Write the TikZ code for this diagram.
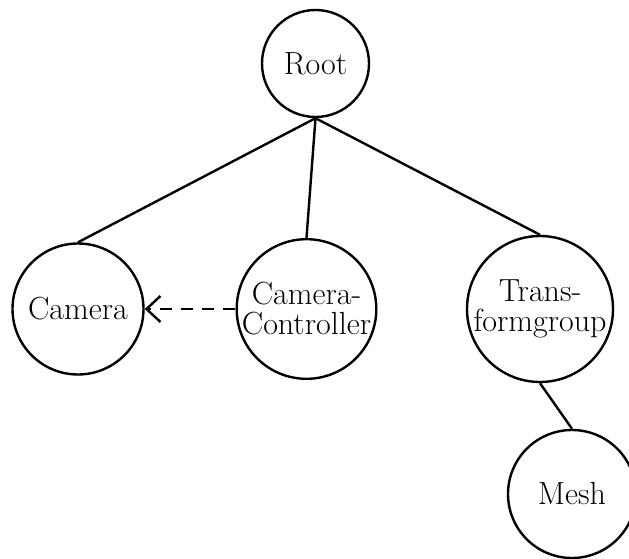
\documentclass[tikz,border=0pt]{standalone}
\usepackage{tikz}
\usetikzlibrary{arrows.meta}

\tikzset{
  knoten/.style={draw, circle, inner sep=0pt, align=center, line width=2.4pt,
    font=\fontsize{32}{30}\selectfont},
  kante/.style={line width=2.4pt},
  bezug/.style={line width=2.4pt, dash pattern=on 12pt off 9pt,
    -{Straight Barb[length=14pt, width=26pt, line width=2.4pt]}}
}

\begin{document}
\begin{tikzpicture}[x=1pt, y=1pt]
\useasboundingbox (0,0) rectangle (629,558);

% Wurzel
\node[knoten, minimum size=107pt] (root) at (315.5,494.5) {Root};

% Zweite Ebene
\node[knoten, minimum size=131pt] (camera) at (78,249) {Camera};
\node[knoten, minimum size=134pt] (ctrl) at (306.5,249) {Camera-\\Controller};
\node[knoten, minimum size=146pt] (trans) at (540,249) {Trans-\\formgroup};

% Dritte Ebene
\node[knoten, minimum size=128pt] (mesh) at (572,64) {Mesh};

% Kanten
\draw[kante] (root.south) -- (camera.north);
\draw[kante] (root.south) -- (ctrl.north);
\draw[kante] (root.south) -- (trans.north);
\draw[kante] (trans.south) -- (mesh.north);

% Verweis
\draw[bezug] (ctrl.west) -- (camera.east);

\end{tikzpicture}
\end{document}
